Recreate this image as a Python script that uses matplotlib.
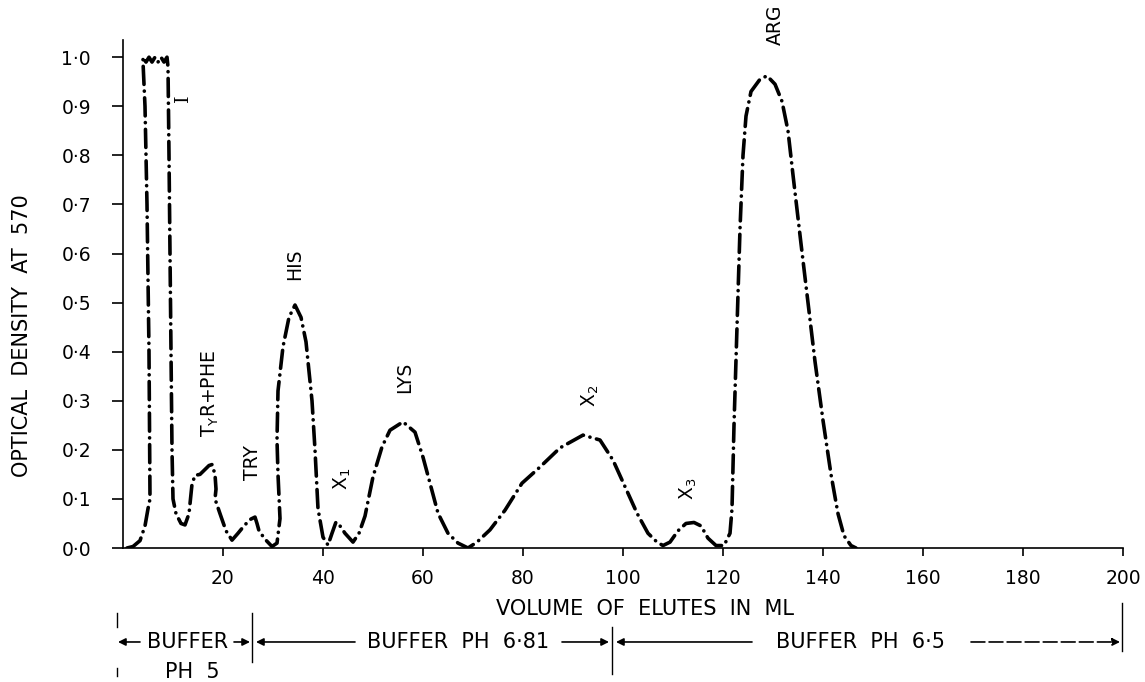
# elution profile of the amino acid column, optical density vs volume

import matplotlib.pyplot as plt

plt.rcParams['font.family'] = ['DejaVu Sans']
plt.rcParams['mathtext.default'] = 'regular'
plt.rcParams['lines.scale_dashes'] = False

# curve (ml, optical density)
volume = [0.8, 2.0, 3.4, 4.4, 5.0, 5.4, 5.2, 4.8, 4.4, 4.0,
          4.0, 4.6, 5.2, 5.8, 6.4, 7.0, 7.6, 8.2, 8.8,
          9.0, 9.2, 9.5, 9.8, 10.0, 10.6, 11.6, 12.4, 13.2, 13.8, 14.4,
          15.4, 16.4, 17.2, 17.8, 18.4, 18.6, 18.4, 19.4, 20.6, 21.8,
          23.0, 24.2, 25.4, 26.4, 26.8, 27.2, 28.4, 29.8, 30.8, 31.4,
          31.0, 30.8, 31.0, 32.0, 33.2, 34.4, 35.6, 36.6, 37.8, 38.4,
          39.0, 40.0, 41.0, 41.8, 42.6, 43.4, 44.4, 46.0, 47.2, 48.4,
          50.0, 51.8, 53.4, 56.0, 58.4, 60.0, 61.4, 63.0, 65.0, 67.0,
          69.0, 70.8, 73.4, 76.4, 79.8, 83.4, 87.4, 92.0, 95.4, 98.0,
          100.4, 102.8, 105.0, 106.8, 108.0, 109.4, 111.0, 112.6, 114.2, 115.6,
          117.0, 118.6, 120.2, 121.4, 121.8, 122.2, 122.8, 123.4, 124.0, 124.6,
          125.6, 127.4, 128.8, 130.4, 131.8, 133.0, 134.0, 135.6, 137.0, 138.4,
          140.0, 141.6, 143.0, 144.2, 145.6, 146.6]
density = [0.0, 0.003, 0.015, 0.045, 0.08, 0.10, 0.40, 0.70, 0.90, 0.99,
           1.0, 0.99, 1.0, 0.99, 1.0, 0.99, 1.0, 0.99, 1.0,
           0.98, 0.80, 0.50, 0.20, 0.10, 0.07, 0.05, 0.047, 0.07, 0.13, 0.148,
           0.15, 0.16, 0.168, 0.17, 0.15, 0.12, 0.10, 0.07, 0.035, 0.016,
           0.03, 0.045, 0.058, 0.063, 0.05, 0.035, 0.018, 0.003, 0.01, 0.06,
           0.15, 0.22, 0.32, 0.41, 0.47, 0.495, 0.47, 0.42, 0.30, 0.20,
           0.08, 0.022, 0.006, 0.03, 0.053, 0.045, 0.03, 0.012, 0.03, 0.065,
           0.145, 0.206, 0.24, 0.257, 0.236, 0.185, 0.132, 0.071, 0.03, 0.01,
           0.0, 0.012, 0.037, 0.077, 0.132, 0.165, 0.204, 0.23, 0.22, 0.179,
           0.125, 0.071, 0.03, 0.012, 0.005, 0.012, 0.035, 0.05, 0.052, 0.045,
           0.02, 0.005, 0.005, 0.03, 0.08, 0.25, 0.45, 0.65, 0.80, 0.88,
           0.93, 0.955, 0.962, 0.945, 0.91, 0.85, 0.76, 0.62, 0.50, 0.38,
           0.26, 0.15, 0.07, 0.025, 0.005, 0.0]

x_ticks = [20, 40, 60, 80, 100, 120, 140, 160, 180, 200]
y_ticks = [0.0, 0.1, 0.2, 0.3, 0.4, 0.5, 0.6, 0.7, 0.8, 0.9, 1.0]
y_tick_labels = ['0·0', '0·1', '0·2', '0·3', '0·4', '0·5',
                 '0·6', '0·7', '0·8', '0·9', '1·0']

# peak names, placed above each peak
peak_names = ['T$_Y$R+PHE', 'TRY', 'HIS', 'X$_1$', 'LYS', 'X$_2$', 'X$_3$', 'ARG']
peak_x = [17.4, 26.0, 34.4, 43.8, 56.4, 93.4, 113.0, 130.4]
peak_y = [0.226, 0.138, 0.546, 0.118, 0.316, 0.287, 0.098, 1.024]

# buffer changes along the volume axis
buffer_edges = [25.8, 97.8, 199.8]

fig = plt.figure(figsize=(11.45, 6.82), dpi=100)
ax = fig.add_axes([123 / 1145, 1 - 548 / 682, 1000 / 1145, 508 / 682])

ax.plot(volume, density, color='black', lw=2.6,
        linestyle=(0, (13, 4.8, 0.1, 4.8)), dash_capstyle='round',
        solid_capstyle='round', solid_joinstyle='round')

ax.set_xlim(0, 200)
ax.set_ylim(0, 1.035)
ax.spines['top'].set_visible(False)
ax.spines['right'].set_visible(False)
ax.spines['left'].set_linewidth(1.2)
ax.spines['bottom'].set_linewidth(1.2)

ax.set_xticks(x_ticks)
ax.set_xticklabels([str(t) for t in x_ticks])
ax.set_yticks(y_ticks)
ax.set_yticklabels(y_tick_labels)
ax.tick_params(axis='x', direction='out', length=6, width=1.2, pad=9, labelsize=13.5)
ax.tick_params(axis='y', direction='out', length=8, width=1.2, pad=15, labelsize=13.5)

# labels of the peaks
ax.text(11.9, 0.917, 'I', family='DejaVu Serif', rotation=90,
        ha='center', va='center', fontsize=14)
for name, px, py in zip(peak_names, peak_x, peak_y):
    ax.text(px, py, name, rotation=90, ha='center', va='bottom', fontsize=13.5,
            clip_on=False)

fig.text(22 / 1145, 1 - 336 / 682, 'OPTICAL  DENSITY  AT  570', rotation=90,
         ha='center', va='center', fontsize=15)
fig.text(645 / 1145, 1 - 609 / 682, 'VOLUME  OF  ELUTES  IN  ML',
         ha='center', va='center', fontsize=15)

# buffer row below the axis
tr = ax.get_xaxis_transform()
row = -0.185
arrow = dict(arrowstyle='-|>', color='black', lw=1.2, mutation_scale=11,
             shrinkA=0, shrinkB=0)

ax.plot([-1.2, -1.2], [-0.128, -0.156], color='black', lw=1.0, transform=tr, clip_on=False)
ax.plot([-1.2, -1.2], [-0.236, -0.252], color='black', lw=1.0, transform=tr, clip_on=False)
ax.plot([buffer_edges[0]] * 2, [-0.128, -0.224], color='black', lw=1.0, transform=tr, clip_on=False)
ax.plot([buffer_edges[1]] * 2, [-0.156, -0.248], color='black', lw=1.0, transform=tr, clip_on=False)
ax.plot([buffer_edges[2]] * 2, [-0.108, -0.203], color='black', lw=1.0, transform=tr, clip_on=False)

ax.annotate('', xy=(-1.0, row), xytext=(3.4, row), xycoords=tr, arrowprops=arrow, annotation_clip=False)
ax.text(13.0, row, 'BUFFER', transform=tr, ha='center', va='center', fontsize=15)
ax.text(13.8, -0.244, 'PH  5', transform=tr, ha='center', va='center', fontsize=15)
ax.annotate('', xy=(25.4, row), xytext=(22.2, row), xycoords=tr, arrowprops=arrow, annotation_clip=False)

ax.annotate('', xy=(26.6, row), xytext=(46.4, row), xycoords=tr, arrowprops=arrow, annotation_clip=False)
ax.text(67.0, row, 'BUFFER  PH  6·81', transform=tr, ha='center', va='center', fontsize=15)
ax.annotate('', xy=(97.2, row), xytext=(87.8, row), xycoords=tr, arrowprops=arrow, annotation_clip=False)

ax.annotate('', xy=(98.6, row), xytext=(125.8, row), xycoords=tr, arrowprops=arrow, annotation_clip=False)
ax.text(147.5, row, 'BUFFER  PH  6·5', transform=tr, ha='center', va='center', fontsize=15)
ax.annotate('', xy=(199.4, row), xytext=(169.6, row), xycoords=tr,
            arrowprops=dict(arrow, linestyle=(0, (10, 3))), annotation_clip=False)

fig.savefig('out.png', dpi=100)
